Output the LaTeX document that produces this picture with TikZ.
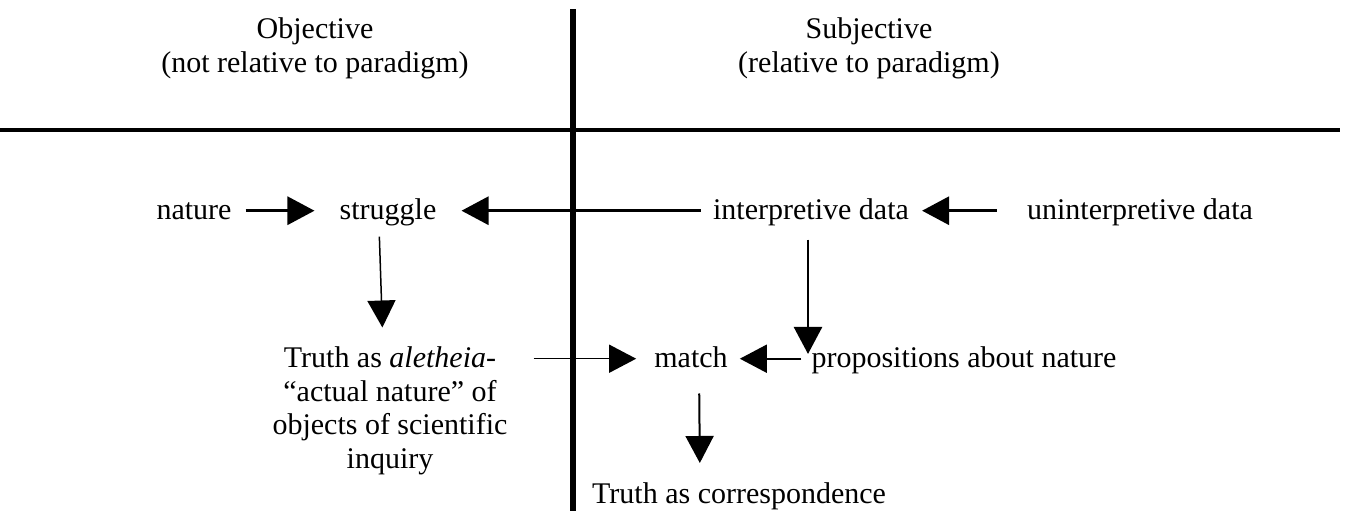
\documentclass[tikz,border=0pt]{standalone}
\usepackage{fontspec}
\setmainfont{Liberation Serif}
\usetikzlibrary{arrows.meta}
\tikzstyle{every node}=[inner sep=0pt,anchor=base,font=\fontsize{30}{33.5}\selectfont]
\tikzstyle{arr}=[-{Triangle[length=27pt,width=28pt]}]
\tikzstyle{harr}=[arr,transform canvas={yshift=6pt}]
\tikzstyle{rule}=[line width=4pt]

\begin{document}
\begin{tikzpicture}[x=1pt,y=-1pt]
\useasboundingbox (0,0) rectangle (1346,523);
\draw [rule] (0,130) -- (1340,130);
\draw [rule,line width=6pt] (573,9) -- (573,511);
\node (obj) at (315,72) [align=center] {Objective\\(not relative to paradigm)};
\node (subj) at (869,72) [align=center] {Subjective\\(relative to paradigm)};
\node (nature) at (194,219) {nature};
\node (struggle) at (388,219) {struggle};
\node (interp) at (811,219) {interpretive data};
\node (uninterp) at (1140,219) {uninterpretive data};
\node (truth) at (390,468) [align=center] {Truth as \textit{aletheia}-\\``actual nature'' of\\objects of scientific\\inquiry};
\node (match) at (691,367) {match};
\node (props) at (964,367) {propositions about nature};
\node (corresp) at (592,503) [anchor=base west] {Truth as correspondence};
\draw [harr,line width=3pt,shorten <=14pt,shorten >=25pt] (nature.mid east) -- (struggle.mid west);
\draw [harr,line width=3pt,shorten <=12pt,shorten >=25pt] (interp.mid west) -- (struggle.mid east);
\draw [harr,line width=3pt,shorten <=30pt,shorten >=13pt] (uninterp.mid west) -- (interp.mid east);
\draw [arr,line width=1.5pt,shorten <=11pt,shorten >=19pt] ([xshift=-9pt]struggle.south) -- ([xshift=-7pt]truth.north);
\draw [arr,line width=2.5pt,shorten <=14pt,shorten >=-8pt] ([xshift=-3pt]interp.south) -- ([xshift=-3pt]interp.south |- props.north);
\draw [harr,line width=1.5pt,shorten <=26pt,shorten >=18pt] (truth.east |- match.mid west) -- (match.mid west);
\draw [harr,line width=2pt,shorten <=10pt,shorten >=12pt] (props.mid west) -- (match.mid east);
\draw [arr,line width=2pt,shorten <=26pt,shorten >=19pt] ([xshift=8pt]match.south) -- ([xshift=9pt]corresp.north -| match.south);
\end{tikzpicture}
\end{document}
